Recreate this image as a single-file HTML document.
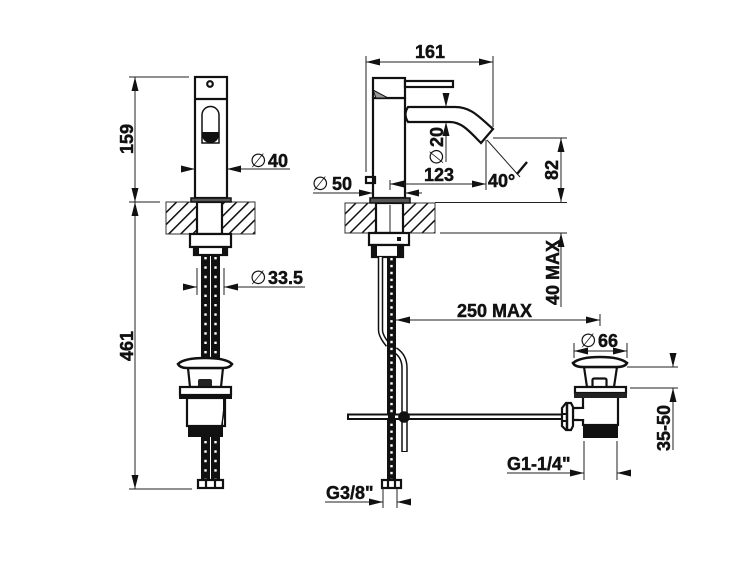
<!DOCTYPE html>
<html><head><meta charset="utf-8"><style>
html,body{margin:0;padding:0;background:#fff;width:750px;height:563px;overflow:hidden}
svg{display:block;filter:blur(.3px)}
text{font-family:"Liberation Sans",sans-serif;font-weight:bold;font-size:18px;fill:#111;stroke:#111;stroke-width:.45}
.p{font-family:"DejaVu Sans",sans-serif;font-weight:normal;font-size:19px;stroke:none}
.d{stroke:#222;stroke-width:1;fill:none}
.o{stroke:#111;stroke-width:2.200;fill:#fff}
.n{stroke:#111;stroke-width:2.200;fill:none}
.h1{stroke:#111;stroke-width:9;fill:none}
.h2{stroke:#fff;stroke-width:2.400;stroke-dasharray:2.400 7;fill:none}
.a{fill:#111;stroke:none}
</style></head><body>
<svg width="750" height="563" viewBox="0 0 750 563" xmlns="http://www.w3.org/2000/svg">
<defs>
<pattern id="ht" width="8.500" height="8.500" patternUnits="userSpaceOnUse" patternTransform="rotate(45)">
<rect width="8.500" height="8.500" fill="#fff"/><line x1="4.250" y1="0" x2="4.250" y2="8.500" stroke="#111" stroke-width="1.500"/>
</pattern>
<marker id="m" viewBox="0 0 14 7" refX="14" refY="3.500" markerWidth="14" markerHeight="7" markerUnits="userSpaceOnUse" orient="auto-start-reverse"><path d="M0 0L14 3.500L0 7Z" fill="#111"/></marker>
</defs>

<!-- LEFT VIEW -->
<rect x="166" y="202" width="89" height="32" fill="url(#ht)" stroke="#333" stroke-width="1"/>
<rect x="197" y="202" width="25" height="32" class="o"/>
<rect x="195" y="77" width="32" height="121" class="o"/>
<line x1="195" y1="99" x2="227" y2="99" class="n"/>
<circle cx="210" cy="84" r="2.800" class="n"/>
<path d="M202 143V115a8.500 8.500 0 0 1 17 0V143Z" stroke="#111" stroke-width="1.500" fill="#fff"/>
<path d="M202 132H219V135a8.500 8 0 0 1-17 0Z" fill="#111"/>
<rect x="191" y="198" width="40" height="4" fill="#555" stroke="#111" stroke-width="1.500"/>
<rect x="190" y="234" width="41" height="13" class="o"/>
<rect x="194" y="247" width="33" height="8" class="o"/>
<rect x="194" y="247" width="5" height="8" fill="#111"/>
<rect x="222" y="247" width="5" height="8" fill="#111"/>
<line x1="205.500" y1="255" x2="205.500" y2="358" class="h1"/>
<line x1="215.500" y1="255" x2="215.500" y2="358" class="h1"/>
<line x1="205.500" y1="257" x2="205.500" y2="358" class="h2"/>
<line x1="215.500" y1="257" x2="215.500" y2="358" class="h2"/>
<line x1="205.500" y1="437" x2="205.500" y2="481" class="h1"/>
<line x1="215.500" y1="437" x2="215.500" y2="481" class="h1"/>
<line x1="205.500" y1="441" x2="205.500" y2="481" class="h2"/>
<line x1="215.500" y1="441" x2="215.500" y2="481" class="h2"/>
<path d="M188 368L190 387H221L223 368Z" class="o"/>
<path d="M178 364Q184 358 205 358Q226 358 232 364Q230 368 223 368H187Q180 368 178 364Z" fill="#fff" stroke="#111" stroke-width="2.600"/>
<rect x="198" y="379" width="14" height="9" rx="2" fill="#222"/>
<rect x="180" y="387" width="51" height="8" class="o"/>
<rect x="179" y="394" width="53" height="5" fill="#111"/>
<rect x="187" y="398" width="38" height="28" class="o"/>
<path d="M223 399h2v12l-2 10v5h-2l1-7 1-9Z" fill="#111"/>
<rect x="188" y="426" width="35" height="11" fill="#111"/>
<rect x="198" y="480" width="25" height="8" class="o"/>
<line x1="206" y1="480" x2="206" y2="488" class="n"/>
<line x1="215" y1="480" x2="215" y2="488" class="n"/>

<!-- left dims -->
<line x1="129" y1="77" x2="189" y2="77" class="d"/>
<line x1="129" y1="202" x2="160" y2="202" class="d"/>
<line x1="129" y1="489" x2="192" y2="489" class="d"/>
<line x1="135" y1="77" x2="135" y2="202" class="d" marker-start="url(#m)" marker-end="url(#m)"/>
<line x1="135" y1="202" x2="135" y2="489" class="d" marker-start="url(#m)" marker-end="url(#m)"/>
<text transform="translate(133,154) rotate(-90)">159</text>
<text transform="translate(133,361) rotate(-90)">461</text>
<line x1="182" y1="169" x2="195" y2="169" class="d" marker-end="url(#m)"/>
<line x1="290" y1="169" x2="227" y2="169" class="d" marker-end="url(#m)"/>
<text class="p" x="250" y="167">∅</text><text x="268" y="167">40</text>
<line x1="184" y1="287" x2="197" y2="287" class="d" marker-end="url(#m)"/>
<line x1="305" y1="287" x2="224" y2="287" class="d" marker-end="url(#m)"/>
<line x1="197" y1="268" x2="197" y2="295" class="d"/>
<line x1="224" y1="268" x2="224" y2="295" class="d"/>
<text class="p" x="250" y="284">∅</text><text x="268" y="284">33.5</text>

<!-- MIDDLE VIEW -->
<rect x="345" y="203" width="90" height="30" fill="url(#ht)" stroke="#333" stroke-width="1"/>
<rect x="376" y="203" width="27" height="30" class="o"/>
<line x1="390" y1="205" x2="390" y2="262" class="d"/>
<rect x="373" y="98" width="32" height="100" class="o"/>
<rect x="373" y="78" width="32" height="20" class="o"/>
<path d="M373 90L388 98H376Z" fill="#999" stroke="#111"/>
<rect x="405" y="81" width="48" height="6" class="o"/>
<path d="M408 107H455C472 107 480 118 493 129L481 143C470 132 462 122 450 122H408Q403 114.500 408 107Z" class="o"/>
<rect x="370" y="198" width="40" height="5" fill="#555" stroke="#111" stroke-width="1.500"/>
<rect x="369" y="233" width="40" height="12" class="o"/>
<rect x="372" y="245" width="31" height="12" class="o"/>
<rect x="373" y="246" width="4" height="10" fill="#111"/>
<rect x="397" y="246" width="5" height="10" fill="#111"/>
<rect x="397" y="237" width="4" height="4" fill="#111"/>
<!-- tubes -->
<path d="M380.500 257V330Q380.500 336 388 345" stroke="#111" stroke-width="5.500" fill="none"/>
<path d="M380.500 257V330Q380.500 336 388 345" stroke="#fff" stroke-width="2.500" fill="none"/>
<path d="M395 350Q404.500 356 404.500 368V452" stroke="#111" stroke-width="6.500" fill="none"/>
<path d="M395 350Q404.500 356 404.500 368V451" stroke="#fff" stroke-width="3.500" fill="none"/>
<line x1="391.500" y1="257" x2="391.500" y2="480" class="h1"/>
<line x1="391.500" y1="258" x2="391.500" y2="480" stroke="#fff" stroke-width="2.400" stroke-dasharray="2.400 4.500" fill="none"/>
<rect x="348" y="414.500" width="214" height="4.500" fill="#fff" stroke="#111" stroke-width="2"/>
<rect x="388" y="414" width="7" height="6" fill="#111"/>
<circle cx="404" cy="417" r="5.800" fill="#111"/>
<rect x="382" y="480" width="19" height="8" class="o"/>
<line x1="388" y1="480" x2="388" y2="488" class="n" stroke-width="1"/>
<line x1="395" y1="480" x2="395" y2="488" class="n" stroke-width="1"/>

<!-- middle dims -->
<line x1="366" y1="56" x2="366" y2="172" class="d"/>
<line x1="493" y1="56" x2="493" y2="127" class="d"/>
<line x1="366" y1="62" x2="493" y2="62" class="d" marker-start="url(#m)" marker-end="url(#m)"/>
<text x="415" y="58">161</text>
<line x1="446" y1="93" x2="446" y2="107" class="d" marker-end="url(#m)"/>
<line x1="446" y1="162" x2="446" y2="122" class="d" marker-end="url(#m)"/>
<text transform="translate(443,147) rotate(-90)">20</text>
<text class="p" transform="translate(443,165) rotate(-90)">∅</text>
<text x="424" y="181">123</text>
<line x1="390" y1="184" x2="486" y2="184" class="d" marker-start="url(#m)" marker-end="url(#m)"/>
<line x1="390" y1="180" x2="390" y2="190" class="d"/>
<line x1="486" y1="140" x2="486" y2="190" class="d"/>
<line x1="487" y1="140" x2="520" y2="177" class="d"/>
<line x1="527" y1="162" x2="517" y2="174" stroke="#111" stroke-width="2.400"/>
<text x="488" y="187">40°</text>
<text class="p" x="312" y="190">∅</text><text x="332" y="190">50</text>
<line x1="313" y1="193" x2="373" y2="193" class="d" marker-end="url(#m)"/>
<line x1="422" y1="193" x2="405" y2="193" class="d" marker-end="url(#m)"/>
<rect x="366" y="177" width="9" height="6" class="n" stroke-width="1.500"/>
<line x1="493" y1="138" x2="567" y2="138" class="d"/>
<line x1="435" y1="202.500" x2="567" y2="202.500" class="d"/>
<line x1="440" y1="233" x2="567" y2="233" class="d"/>
<line x1="561" y1="138" x2="561" y2="202" class="d" marker-start="url(#m)" marker-end="url(#m)"/>
<text transform="translate(558,180) rotate(-90)">82</text>
<line x1="561" y1="307" x2="561" y2="233" class="d" marker-end="url(#m)"/>
<text transform="translate(559,305) rotate(-90)">40 MAX</text>
<text x="457" y="317">250 MAX</text>
<line x1="396" y1="320" x2="600" y2="320" class="d" marker-start="url(#m)" marker-end="url(#m)"/>
<line x1="600" y1="314" x2="600" y2="326" class="d"/>
<text x="326" y="499">G3/8"</text>
<line x1="325" y1="502" x2="383" y2="502" class="d" marker-end="url(#m)"/>
<line x1="411" y1="502" x2="397" y2="502" class="d" marker-end="url(#m)"/>
<line x1="383" y1="488" x2="383" y2="508" class="d"/>
<line x1="397" y1="488" x2="397" y2="508" class="d"/>

<!-- RIGHT WASTE -->
<path d="M584 367L587 387H614L617 367Z" class="o"/>
<path d="M573 363Q580 357 600 357Q620 357 627 363Q625 367 617 367H583Q575 367 573 363Z" fill="#fff" stroke="#111" stroke-width="2.600"/>
<rect x="592.500" y="378.500" width="14" height="9" rx="1.500" class="o"/>
<rect x="583" y="396" width="35" height="29" class="o"/>
<rect x="575" y="387" width="51" height="6" class="o"/>
<rect x="574" y="393" width="53" height="5" fill="#222"/>
<path d="M573 408H583V420H573Z" class="o"/>
<rect x="579" y="409" width="6" height="10" fill="#fff"/>
<path d="M562 408L566 403H571L573 407V426L571 430H566L562 426Z" class="o"/>
<line x1="567" y1="404" x2="567" y2="429" stroke="#111" stroke-width="2.500"/>
<rect x="562" y="413" width="6" height="2" fill="#111"/>
<rect x="562" y="420" width="6" height="2" fill="#111"/>
<rect x="583" y="425" width="35" height="13" fill="#111"/>

<!-- right dims -->
<text class="p" x="580" y="347">∅</text><text x="598" y="347">66</text>
<line x1="574" y1="343" x2="574" y2="358" class="d"/>
<line x1="627" y1="343" x2="627" y2="358" class="d"/>
<line x1="574" y1="351" x2="627" y2="351" class="d" marker-start="url(#m)" marker-end="url(#m)"/>
<line x1="627" y1="367" x2="678" y2="367" class="d"/>
<line x1="630" y1="388" x2="678" y2="388" class="d"/>
<line x1="673" y1="353" x2="673" y2="367" class="d" marker-end="url(#m)"/>
<line x1="673" y1="450" x2="673" y2="388" class="d" marker-end="url(#m)"/>
<text transform="translate(670,451) rotate(-90)">35-50</text>
<text x="507" y="470">G1-1/4"</text>
<line x1="507" y1="473" x2="584" y2="473" class="d" marker-end="url(#m)"/>
<line x1="630" y1="473" x2="617" y2="473" class="d" marker-end="url(#m)"/>
<line x1="584" y1="441" x2="584" y2="480" class="d"/>
<line x1="617" y1="441" x2="617" y2="480" class="d"/>
</svg>
</body></html>
